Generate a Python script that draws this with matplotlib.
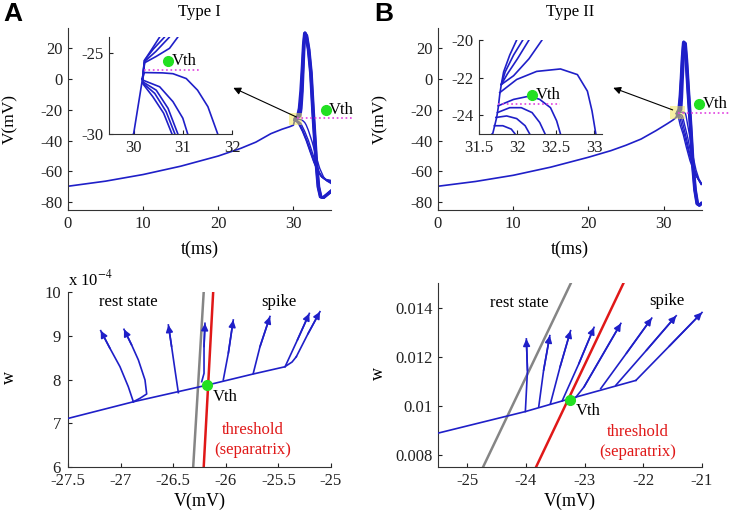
import matplotlib
matplotlib.use('Agg')
import matplotlib.pyplot as plt
from matplotlib.patches import Rectangle

plt.rcParams['font.family'] = ['Liberation Serif', 'DejaVu Serif']
plt.rcParams['axes.unicode_minus'] = False
plt.rcParams['mathtext.fontset'] = 'stix'

BLUE = '#1f1fc8'
GRAY = '#858585'
RED = '#e01818'
GREEN = '#22e022'
MAG = '#e040e0'

# ---------------- Panel A (Type I) voltage traces ----------------
preA_t = [0, 5, 10, 15, 20, 23, 25, 27, 28.5, 29.5, 30.0, 30.18]
preA_v = [-69.6, -66.3, -62.0, -56.6, -50.0, -45.0, -41.0, -35.5, -32.6, -31.0, -30.0, -26.6]

upA_t = [
    [30.18, 30.22, 30.35, 30.53, 30.75, 30.95, 31.15, 31.3, 31.45, 31.65, 31.95, 32.25, 32.55, 32.95, 33.25, 33.55, 33.9, 34.4, 35.0],
    [30.18, 30.22, 30.4, 30.63, 30.85, 31.05, 31.22, 31.36, 31.5, 31.7, 32.0, 32.3, 32.6, 33.0, 33.3, 33.6, 33.95, 34.45, 35.0],
    [30.18, 30.23, 30.45, 30.73, 30.95, 31.12, 31.28, 31.4, 31.55, 31.75, 32.05, 32.35, 32.65, 33.05, 33.35, 33.65, 34.0, 34.5, 35.0],
    [30.18, 30.22, 30.46, 30.73, 30.9, 31.05, 31.2, 31.33, 31.45, 31.6, 31.8, 32.1, 32.4, 32.7, 33.1, 33.4, 33.7, 34.05, 34.55, 35.0],
]
upA_v = [
    [-26.6, -25.45, -24.85, -24.0, -19, -8, 8, 22, 29.5, 28, 19, 4, -22, -53, -70, -76.5, -77, -75, -72.5],
    [-26.6, -25.45, -24.75, -24.0, -19, -8, 8, 22, 29.8, 28, 19, 4, -22, -53, -70, -76.5, -77, -75, -72.8],
    [-26.6, -25.5, -24.9, -24.0, -19, -8, 8, 22, 30, 28, 19, 4, -22, -53, -70, -76.5, -77, -75, -73],
    [-26.6, -25.6, -25.2, -24.7, -24.0, -19, -8, 8, 22, 29.5, 28, 19, 4, -22, -53, -70, -76.5, -77, -75, -73.2],
]
downA_t = [
    [30.18, 30.22, 30.59, 30.8, 31.07, 31.3, 31.51, 31.71, 32.0, 32.5, 33.0, 33.5, 34.0, 34.5, 35.0],
    [30.18, 30.19, 30.53, 30.8, 31.0, 31.1, 31.5, 32.0, 32.5, 33.0, 33.5, 34.0, 34.5, 35.0],
    [30.18, 30.19, 30.46, 30.7, 30.9, 31.3, 31.8, 32.3, 32.8, 33.3, 33.8, 34.4, 35.0],
    [30.18, 30.19, 30.43, 30.66, 30.84, 31.25, 31.75, 32.25, 32.75, 33.25, 33.75, 34.4, 35.0],
    [30.18, 30.19, 30.39, 30.61, 30.78, 31.2, 31.7, 32.2, 32.7, 33.2, 33.7, 34.35, 35.0],
]
downA_v = [
    [-26.6, -26.2, -26.22, -26.27, -26.57, -27.29, -28.31, -30.0, -33.5, -41, -50, -58, -63.5, -66.3, -67.8],
    [-26.6, -26.67, -27.08, -28.0, -29.02, -30.0, -34, -40, -47.5, -55, -61, -64.5, -66.2, -67.2],
    [-26.6, -26.78, -27.29, -28.41, -30.0, -34, -40, -47, -54, -60, -63.8, -65.8, -66.7],
    [-26.6, -26.85, -27.49, -28.61, -30.0, -34, -40, -47, -54, -59.8, -63.5, -65.5, -66.3],
    [-26.6, -26.9, -27.69, -28.71, -30.0, -34, -40, -47, -53.8, -59.5, -63.2, -65.2, -65.8],
]

# ---------------- Panel B (Type II) voltage traces ----------------
preB_t = [0, 5, 10, 15, 20, 23, 25, 27, 29, 30.5, 31.2, 31.68, 31.73, 31.75, 31.77, 31.79]
preB_v = [-69.6, -66.5, -62.5, -57.2, -50.8, -46.5, -43.0, -39.0, -33.5, -29.0, -26.8, -24.96, -24.12, -23.6, -22.9, -22.37]

upB_t = [
    [31.79, 31.82, 31.9, 31.99, 32.15, 32.3, 32.45, 32.6, 32.75, 32.95, 33.2, 33.5, 33.8, 34.1, 34.4, 34.7, 35.0],
    [31.79, 31.84, 31.95, 32.07, 32.2, 32.35, 32.5, 32.65, 32.8, 33.0, 33.25, 33.55, 33.85, 34.15, 34.45, 34.75, 35.0],
    [31.79, 31.87, 32.0, 32.15, 32.27, 32.4, 32.55, 32.7, 32.85, 33.05, 33.3, 33.6, 33.9, 34.2, 34.5, 34.8, 35.0],
    [31.79, 31.95, 32.15, 32.32, 32.42, 32.52, 32.65, 32.78, 32.92, 33.1, 33.35, 33.65, 33.95, 34.25, 34.55, 34.85, 35.0],
]
upB_v = [
    [-22.37, -21.7, -20.8, -20.0, -12, 0, 14, 23.5, 23, 12, -8, -30, -55, -72, -81, -82, -80.5],
    [-22.37, -21.7, -20.8, -20.0, -12, 0, 14, 24, 23, 12, -8, -30, -55, -72, -81, -82, -80.8],
    [-22.37, -21.8, -21.0, -20.0, -12, 0, 14, 24, 23, 12, -8, -30, -55, -72, -81, -82, -81],
    [-22.37, -21.9, -21.0, -20.0, -12, 0, 14, 23.5, 23, 12, -8, -30, -55, -72, -81, -81.5, -81],
]
downB_t = [
    [31.77, 31.99, 32.25, 32.56, 32.78, 32.91, 32.97, 33.02, 33.2, 33.5, 33.9, 34.3, 34.7, 35.0],
    [31.75, 31.95, 32.16, 32.29, 32.43, 32.51, 32.56, 32.8, 33.2, 33.6, 34.0, 34.5, 35.0],
    [31.74, 31.9, 32.05, 32.19, 32.29, 32.36, 32.6, 33.0, 33.4, 33.8, 34.3, 35.0],
    [31.72, 31.86, 31.99, 32.1, 32.16, 32.4, 32.8, 33.2, 33.7, 34.2, 35.0],
    [31.70, 31.81, 31.92, 31.97, 32.2, 32.6, 33.0, 33.5, 34.1, 35.0],
]
downB_v = [
    [-22.8, -22.1, -21.67, -21.54, -21.84, -22.72, -23.77, -25.0, -30, -38, -50, -59, -65, -67.5],
    [-23.5, -23.16, -22.98, -23.16, -23.6, -24.3, -25.0, -30, -38, -48, -57, -64, -67.8],
    [-23.86, -23.6, -23.6, -23.86, -24.39, -25.0, -30, -38, -47, -55, -62.5, -68],
    [-24.12, -24.04, -24.18, -24.56, -25.0, -30, -37, -45, -54, -61.5, -68.3],
    [-24.56, -24.56, -24.74, -25.0, -30, -36, -44, -53, -61, -68.5],
]

# threshold markers (top panels)
vthA_main = (34.3, -20.1); vthA_dash = (30.5, 37.8, -25.6)
vthB_main = (34.7, -16.4); vthB_dash = (31.9, 39.4, -22.2)
vthA_inset = (30.70, -25.49); vthA_inset_dash = (30.22, 31.32, -26.02)
vthB_inset = (32.19, -22.9); vthB_inset_dash = (31.75, 32.56, -23.42)

# ---------------- Phase planes ----------------
# Type I (w in units of 1e-4)
pA_main_V = [-27.5, -26.88, -26.18, -25.75, -25.44, -25.37, -25.33]
pA_main_w = [7.11, 7.49, 7.87, 8.12, 8.29, 8.40, 8.52]
pA_br_V = [
    [-26.879, -26.927, -27.006, -27.101, -27.189],
    [-26.88, -26.816, -26.752, -26.768, -26.831, -26.895, -26.968],
    [-26.451, -26.483, -26.515, -26.546],
    [-26.229, -26.207, -26.207, -26.198],
    [-26.024, -25.976, -25.929],
    [-25.739, -25.675, -25.580],
    [-25.437, -25.32, -25.206],
    [-25.33, -25.22, -25.105],
]
pA_br_w = [
    [7.493, 7.836, 8.293, 8.712, 9.116],
    [7.49, 7.570, 7.669, 7.989, 8.446, 8.789, 9.147],
    [7.699, 8.217, 8.750, 9.246],
    [7.950, 8.141, 8.750, 9.284],
    [7.99, 8.60, 9.36],
    [8.14, 8.75, 9.44],
    [8.29, 8.90, 9.51],
    [8.52, 9.04, 9.55],
]
grayA_V = [-26.31, -26.21]; grayA_w = [6.0, 10.0]
redA_V = [-26.21, -26.12]; redA_w = [6.0, 10.0]
vthA_pp = (-26.18, 7.87)

# Type II
pB_main_V = [-25.509, -24.011, -23.24, -22.126]
pB_main_w = [0.008875, 0.00976, 0.01029, 0.01103]
pB_br_V = [
    [-24.011, -23.975, -23.994],
    [-23.783, -23.70, -23.594],
    [-23.583, -23.42, -23.24],
    [-23.383, -23.10, -22.84],
    [-23.154, -23.011, -22.383],
    [-22.726, -22.29, -21.857],
    [-22.469, -21.95, -21.44],
    [-22.126, -21.56, -21.0],
]
pB_br_w = [
    [0.00976, 0.01144, 0.01272],
    [0.009954, 0.011438, 0.012854],
    [0.010089, 0.011572, 0.013056],
    [0.010197, 0.011707, 0.013191],
    [0.010332, 0.010763, 0.013353],
    [0.010696, 0.01213, 0.013568],
    [0.010831, 0.01225, 0.013663],
    [0.011033, 0.01242, 0.013798],
]
grayB_V = [-24.726, -23.24]; grayB_w = [0.007527, 0.01497]
redB_V = [-23.823, -22.343]; redB_w = [0.007527, 0.01497]
vthB_pp = (-23.25, 0.01025)

# ---------------- figure ----------------
fig = plt.figure(figsize=(7.31, 5.17), dpi=100)
W, H = 731, 517

def box(l, t, r, b):
    return [l / W, 1 - b / H, (r - l) / W, (b - t) / H]

def style(ax, fs=12):
    for s in ['top', 'right']:
        ax.spines[s].set_visible(False)
    for s in ['left', 'bottom']:
        ax.spines[s].set_color('#333333')
        ax.spines[s].set_linewidth(0.8)
    ax.tick_params(direction='in', length=3, width=0.8, labelsize=fs, pad=4, colors='#222222')

def draw_traces(ax, pre_t, pre_v, up_t, up_v, dn_t, dn_v, lw_up, lw_dn):
    ax.plot(pre_t, pre_v, color=BLUE, lw=1.2, zorder=2)
    for t, v in zip(dn_t, dn_v):
        ax.plot(t, v, color=BLUE, lw=lw_dn, zorder=2)
    for t, v in zip(up_t, up_v):
        ax.plot(t, v, color=BLUE, lw=lw_up, zorder=2)

# ---- A top ----
axA = fig.add_axes(box(68, 28, 331, 210))
style(axA)
draw_traces(axA, preA_t, preA_v, upA_t, upA_v, downA_t, downA_v, 1.9, 1.0)
axA.set_xlim(0, 35); axA.set_ylim(-85, 33)
axA.set_xticks([0, 10, 20, 30]); axA.set_yticks([-80, -60, -40, -20, 0, 20])
axA.add_patch(Rectangle((29.4, -30), 1.8, 8, facecolor=(0.95, 0.9, 0.3), alpha=0.5, edgecolor='none', zorder=3))
axA.plot([vthA_dash[0], vthA_dash[1]], [vthA_dash[2]] * 2, ls=':', color=MAG, lw=1.2, clip_on=False, zorder=4)
axA.plot(*vthA_main, 'o', color=GREEN, ms=7, clip_on=False, zorder=5)
axA.text(vthA_main[0] + 0.45, vthA_main[1], 'Vth', fontsize=12, va='center', ha='left')
axA.annotate('', xy=(22.0, -5.8), xytext=(30.4, -24.7),
             arrowprops=dict(arrowstyle='-|>', color='k', lw=0.8, mutation_scale=11, shrinkA=0, shrinkB=0), zorder=6)
axA.set_xlabel('t(ms)', fontsize=13)
axA.xaxis.set_label_coords(0.5, -0.17)
axA.set_ylabel('V(mV)', fontsize=12.5)
axA.yaxis.set_label_coords(-0.19, 0.5)
axA.text(0.5, 1.088, 'Type I', transform=axA.transAxes, ha='center', va='center', fontsize=12)
fig.text(3 / W, 1 - 14 / H, 'A', fontsize=19, fontweight='bold', family='Liberation Sans', va='center', ha='left')

# inset A
inA = fig.add_axes(box(109, 37, 232, 134))
style(inA)
draw_traces(inA, preA_t, preA_v, upA_t, upA_v, downA_t, downA_v, 1.2, 1.2)
inA.set_xlim(29.5, 32); inA.set_ylim(-30, -24)
inA.set_xticks([30, 31, 32]); inA.set_yticks([-30, -25])
inA.plot([vthA_inset_dash[0], vthA_inset_dash[1]], [vthA_inset_dash[2]] * 2, ls=':', color=MAG, lw=1.2, zorder=4)
inA.plot(*vthA_inset, 'o', color=GREEN, ms=7, zorder=5)
inA.text(vthA_inset[0] + 0.07, vthA_inset[1], 'Vth', fontsize=12, va='center', ha='left')
inA.patch.set_alpha(0)

# ---- B top ----
axB = fig.add_axes(box(438, 28, 702, 210))
style(axB)
draw_traces(axB, preB_t, preB_v, upB_t, upB_v, downB_t, downB_v, 1.9, 1.0)
axB.set_xlim(0, 35.1); axB.set_ylim(-85, 33)
axB.set_xticks([0, 10, 20, 30]); axB.set_yticks([-80, -60, -40, -20, 0, 20])
axB.add_patch(Rectangle((30.9, -26), 2.0, 8.5, facecolor=(0.95, 0.9, 0.3), alpha=0.5, edgecolor='none', zorder=3))
axB.plot([vthB_dash[0], vthB_dash[1]], [vthB_dash[2]] * 2, ls=':', color=MAG, lw=1.2, clip_on=False, zorder=4)
axB.plot(*vthB_main, 'o', color=GREEN, ms=7, clip_on=False, zorder=5)
axB.text(vthB_main[0] + 0.45, vthB_main[1], 'Vth', fontsize=12, va='center', ha='left')
axB.annotate('', xy=(23.3, -5.8), xytext=(31.2, -20.1),
             arrowprops=dict(arrowstyle='-|>', color='k', lw=0.8, mutation_scale=11, shrinkA=0, shrinkB=0), zorder=6)
axB.set_xlabel('t(ms)', fontsize=13)
axB.xaxis.set_label_coords(0.5, -0.17)
axB.set_ylabel('V(mV)', fontsize=12.5)
axB.yaxis.set_label_coords(-0.19, 0.5)
axB.text(0.5, 1.088, 'Type II', transform=axB.transAxes, ha='center', va='center', fontsize=12)
fig.text(374 / W, 1 - 14 / H, 'B', fontsize=19, fontweight='bold', family='Liberation Sans', va='center', ha='left')

inB = fig.add_axes(box(479, 40, 602, 134))
style(inB)
draw_traces(inB, preB_t, preB_v, upB_t, upB_v, downB_t, downB_v, 1.2, 1.2)
inB.set_xlim(31.5, 33.1); inB.set_ylim(-25, -20)
inB.set_xticks([31.5, 32, 32.5, 33]); inB.set_xticklabels(['31.5', '32', '32.5', '33'])
inB.set_yticks([-24, -22, -20])
inB.plot([vthB_inset_dash[0], vthB_inset_dash[1]], [vthB_inset_dash[2]] * 2, ls=':', color=MAG, lw=1.2, zorder=4)
inB.plot(*vthB_inset, 'o', color=GREEN, ms=7, zorder=5)
inB.text(vthB_inset[0] + 0.05, vthB_inset[1], 'Vth', fontsize=12, va='center', ha='left')
inB.patch.set_alpha(0)

# ---- phase planes ----
def phase(ax, mV, mw, bV, bw, gV, gw, rV, rw, vth):
    ax.plot(gV, gw, color=GRAY, lw=1.8, zorder=2)
    ax.plot(rV, rw, color=RED, lw=1.8, zorder=2)
    ax.plot(mV, mw, color=BLUE, lw=1.2, zorder=3)
    for V, w in zip(bV, bw):
        ax.plot(V, w, color=BLUE, lw=1.2, zorder=3, clip_on=False)
        ax.annotate('', xy=(V[-1], w[-1]), xytext=(V[-2], w[-2]), annotation_clip=False,
                    arrowprops=dict(arrowstyle='-|>', color=BLUE, lw=1.2, mutation_scale=10,
                                    shrinkA=0, shrinkB=0), zorder=4)
    ax.plot(*vth, 'o', color=GREEN, ms=7, zorder=5)

pA = fig.add_axes(box(68, 292, 331, 467))
style(pA)
pA.tick_params(axis='y', pad=5)
phase(pA, pA_main_V, pA_main_w, pA_br_V, pA_br_w, grayA_V, grayA_w, redA_V, redA_w, vthA_pp)
pA.set_xlim(-27.5, -25); pA.set_ylim(6, 10)
pA.set_xticks([-27.5, -27, -26.5, -26, -25.5, -25])
pA.set_xticklabels(['-27.5', '-27', '-26.5', '-26', '-25.5', '-25'])
pA.set_yticks([6, 7, 8, 9, 10])
pA.text(0.0, 1.015, r'x 10$^{\mathrm{-4}}$', transform=pA.transAxes, fontsize=12, ha='left', va='bottom')
pA.text(-26.93, 9.78, 'rest state', fontsize=12, ha='center', va='center')
pA.text(-25.5, 9.78, 'spike', fontsize=12, ha='center', va='center')
pA.text(vthA_pp[0] + 0.06, 7.6, 'Vth', fontsize=12, ha='left', va='center')
pA.text(-25.74, 6.85, 'threshold', fontsize=12, ha='center', va='center', color=RED)
pA.text(-25.74, 6.39, '(separatrix)', fontsize=12, ha='center', va='center', color=RED)
pA.set_xlabel('V(mV)', fontsize=13)
pA.xaxis.set_label_coords(0.5, -0.145)
pA.set_ylabel('w', fontsize=13)
pA.yaxis.set_label_coords(-0.19, 0.51)

pB = fig.add_axes(box(438, 283, 702, 467))
style(pB)
phase(pB, pB_main_V, pB_main_w, pB_br_V, pB_br_w, grayB_V, grayB_w, redB_V, redB_w, vthB_pp)
pB.set_xlim(-25.5, -21); pB.set_ylim(0.0075, 0.015)
pB.set_xticks([-25, -24, -23, -22, -21])
pB.set_yticks([0.008, 0.01, 0.012, 0.014])
pB.set_yticklabels(['0.008', '0.01', '0.012', '0.014'])
pB.text(-24.11, 0.0142, 'rest state', fontsize=12, ha='center', va='center')
pB.text(-21.6, 0.01427, 'spike', fontsize=12, ha='center', va='center')
pB.text(vthB_pp[0] + 0.1, 0.0098, 'Vth', fontsize=12, ha='left', va='center')
pB.text(-22.1, 0.00894, 'threshold', fontsize=12, ha='center', va='center', color=RED)
pB.text(-22.1, 0.00813, '(separatrix)', fontsize=12, ha='center', va='center', color=RED)
pB.set_xlabel('V(mV)', fontsize=13)
pB.xaxis.set_label_coords(0.5, -0.138)
pB.set_ylabel('w', fontsize=13)
pB.yaxis.set_label_coords(-0.193, 0.51)

fig.savefig('out.png', dpi=100)
